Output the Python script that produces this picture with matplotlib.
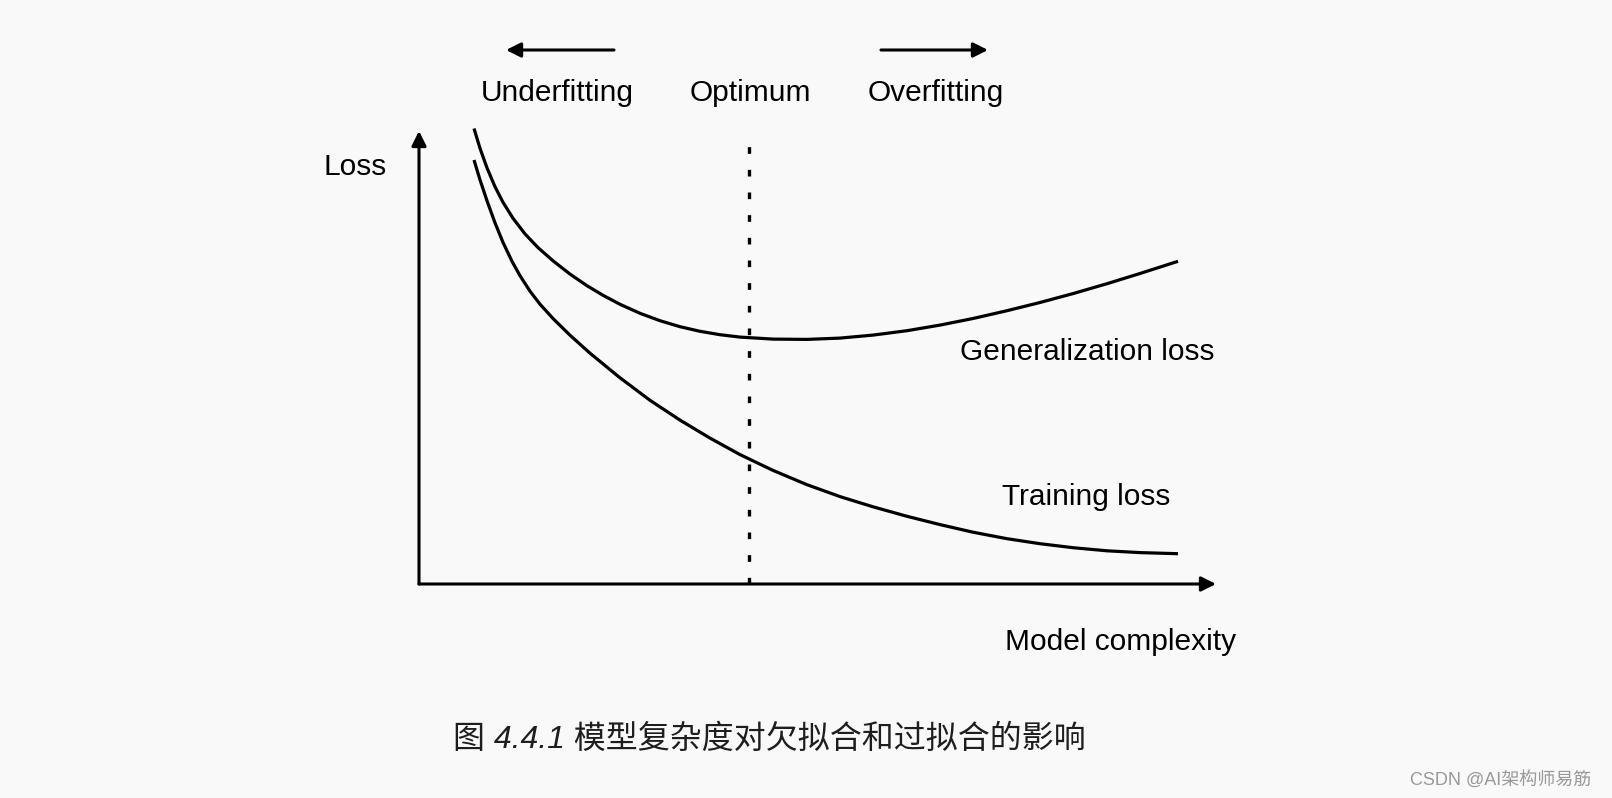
import matplotlib.pyplot as plt

plt.rcParams['font.family'] = ['Liberation Sans', 'Noto Sans CJK SC', 'DejaVu Sans']

# values (arbitrary units, origin at the axes corner)
gen_x = [55, 61, 68, 76, 84, 94, 106, 119, 134, 151, 168, 184, 201, 221, 241, 261,
         281, 301, 321, 354, 388, 421, 454, 488, 521, 554, 588, 621, 654, 688, 721, 759]
gen_loss = [455.5, 435.7, 416.1, 397.3, 381.7, 365.7, 350.1, 336.4, 323.2, 309.9,
            298.3, 288.7, 279.7, 270.7, 263.3, 257.3, 252.7, 249.3, 246.9, 244.9,
            244.6, 245.9, 248.9, 253.3, 258.9, 265.5, 273.3, 281.5, 290.4, 300.3,
            310.5, 322.7]
train_x = [55, 61, 68, 76, 84, 93, 101, 111, 121, 134, 151, 171, 201, 231, 261, 291,
           321, 354, 388, 421, 454, 488, 521, 554, 588, 621, 654, 688, 721, 759]
train_loss = [424, 404.2, 383.2, 361.2, 341.6, 322.7, 308.3, 292.8, 279.8, 265.5,
              248.8, 230.8, 206.2, 183.7, 163.9, 145.9, 129.4, 113.6, 99.3, 87.4,
              77.2, 67.7, 59.4, 51.8, 45.3, 40.3, 36.3, 33.2, 31.4, 30.3]
optimum_x = 330
x_max, y_max = 797, 453

top_labels = ["Underfitting", "Optimum", "Overfitting"]
top_label_x = [138, 331, 517]

caption = "图 4.4.1 模型复杂度对欠拟合和过拟合的影响"
watermark = "CSDN @AI架构师易筋"

bg = "#f9f9f9"
W, H = 1612, 798
fig = plt.figure(figsize=(W / 100, H / 100), dpi=100, facecolor=bg)
ax = fig.add_axes([419 / W, 1 - 584 / H, x_max / W, y_max / H])
ax.set_xlim(0, x_max)
ax.set_ylim(0, y_max)
ax.set_facecolor(bg)
ax.axis("off")

arrow = dict(arrowstyle="-|>", lw=2.2, color="black", mutation_scale=22,
             shrinkA=0, shrinkB=0)
# axes with arrow heads
ax.annotate("", xy=(x_max, 0), xytext=(0, 0), arrowprops=arrow, annotation_clip=False)
ax.annotate("", xy=(0, y_max), xytext=(0, 0), arrowprops=arrow, annotation_clip=False)

ax.plot(gen_x, gen_loss, color="black", lw=2.3, clip_on=False,
        solid_capstyle="butt", solid_joinstyle="round")
ax.plot(train_x, train_loss, color="black", lw=2.3, clip_on=False,
        solid_capstyle="butt", solid_joinstyle="round")
ax.plot([optimum_x, optimum_x], [0, 448], color="black", lw=2.4,
        linestyle=(0, (2, 4.8)), clip_on=False)

# direction arrows above the plot
ax.annotate("", xy=(87, 534), xytext=(195, 534), arrowprops=arrow,
            annotation_clip=False)
ax.annotate("", xy=(569, 534), xytext=(462, 534), arrowprops=arrow,
            annotation_clip=False)

fs = 21.5
for lab, x in zip(top_labels, top_label_x):
    ax.text(x, 491, lab, ha="center", va="center", fontsize=fs)
ax.text(-64, 417, "Loss", ha="center", va="center", fontsize=fs)
ax.text(541, 232, "Generalization loss", ha="left", va="center", fontsize=fs)
ax.text(583, 87, "Training loss", ha="left", va="center", fontsize=fs)
ax.text(586, -58, "Model complexity", ha="left", va="center", fontsize=fs)

fig.text(453 / W, 1 - 740 / H, caption, ha="left", va="center", fontsize=23,
         style="italic", color="#1e1e1e")
fig.text(1410 / W, 1 - 780 / H, watermark, ha="left", va="center", fontsize=13,
         color="#999999")

fig.savefig("out.png", dpi=100, facecolor=bg)
